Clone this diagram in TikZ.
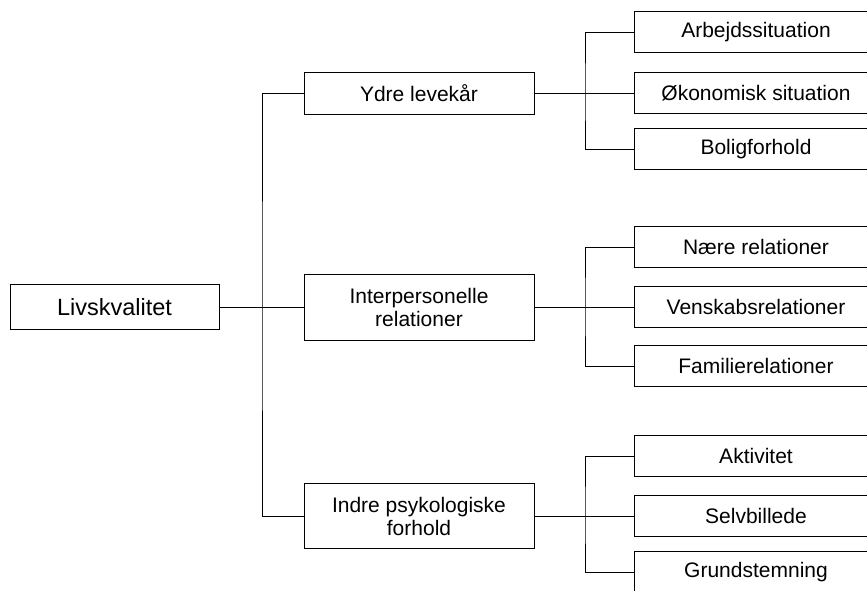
\documentclass[tikz,border=0pt]{standalone}
\usepackage{fontspec}
\setmainfont{Liberation Sans}

\begin{document}
\begin{tikzpicture}[x=1pt,y=-1pt,line width=.8pt,
  box/.style={draw,line width=1pt,inner sep=0pt,align=center,
    font=\fontsize{21}{23}\selectfont},
  mid/.style={box,minimum width=230pt},
  leaf/.style={box,minimum width=244pt,minimum height=41pt}]
\useasboundingbox (0,0) rectangle (867,590);
% root and the three main areas
\node[box,minimum width=209pt,minimum height=45pt,
  font=\fontsize{23.5}{26}\selectfont] (livskvalitet) at (114.5,307) {Livskvalitet};
\node[mid,minimum height=42pt] (ydre) at (419,93) {Ydre levekår};
\node[mid,minimum height=66pt] (inter) at (419,307) {Interpersonelle\\relationer};
\node[mid,minimum height=65pt] (indre) at (419,516) {Indre psykologiske\\forhold};
% leaves
\node[leaf] (arbejd) at (756,32) {Arbejdssituation};
\node[leaf] (oekonomi) at (756,93) {Økonomisk situation};
\node[leaf] (bolig) at (756,149) {Boligforhold};
\node[leaf] (naere) at (756,247) {Nære relationer};
\node[leaf] (venskab) at (756,307) {Venskabsrelationer};
\node[leaf] (familie) at (756,366) {Familierelationer};
\node[leaf] (aktivitet) at (756,456) {Aktivitet};
\node[leaf] (selvbillede) at (756,516) {Selvbillede};
\node[leaf] (grund) at (756,572) {Grundstemning};
\coordinate (trunk) at (262,307);
\coordinate (ydre-hub) at (585,93);
\coordinate (inter-hub) at (585,307);
\coordinate (indre-hub) at (585,516);
\draw (livskvalitet) -- (inter);
\draw (ydre) -| (trunk) |- (indre);
\draw (ydre) -- (oekonomi);
\draw (arbejd) -| (ydre-hub) |- (bolig);
\draw (inter) -- (venskab);
\draw (naere) -| (inter-hub) |- (familie);
\draw (indre) -- (selvbillede);
\draw (aktivitet) -| (indre-hub) |- (grund);
\end{tikzpicture}
\end{document}
